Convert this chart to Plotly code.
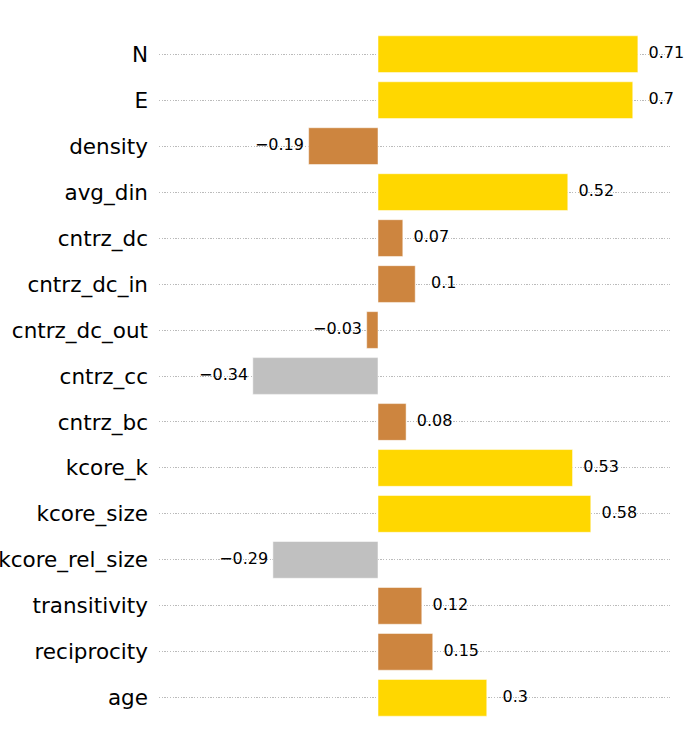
import plotly.graph_objects as go

categories = ["N", "E", "density", "avg_din", "cntrz_dc", "cntrz_dc_in", "cntrz_dc_out",
              "cntrz_cc", "cntrz_bc", "kcore_k", "kcore_size", "kcore_rel_size",
              "transitivity", "reciprocity", "age"]
values = [0.712, 0.698, -0.19, 0.52, 0.068, 0.102, -0.031,
          -0.343, 0.077, 0.533, 0.583, -0.288,
          0.12, 0.15, 0.298]
groups = ["strong", "strong", "weak", "strong", "weak", "weak", "weak",
          "negative", "weak", "strong", "strong", "negative",
          "weak", "weak", "strong"]

palette = {"strong": "#FFD700", "weak": "#CD853F", "negative": "#C0C0C0"}
colors = [palette[g] for g in groups]

def fmt(v):
    s = str(round(v, 2))
    return s.replace("-", "\u2212")

labels = [fmt(v) for v in values]
label_x = [v + (0.078 if v >= 0 else -0.08) for v in values]

fig = go.Figure()
fig.add_trace(go.Bar(
    x=values, y=categories, orientation="h",
    marker=dict(color=colors, line=dict(color="rgba(255,255,255,0.5)", width=1)),
    width=0.8, hoverinfo="skip",
))
fig.add_trace(go.Scatter(
    x=label_x, y=categories, mode="text", text=labels,
    textposition="middle center",
    textfont=dict(family="DejaVu Sans", size=16, color="black"),
    hoverinfo="skip", cliponaxis=False,
))

fig.update_layout(
    width=685, height=750,
    margin=dict(l=159.3, r=15, t=21.5, b=20),
    paper_bgcolor="white", plot_bgcolor="white",
    showlegend=False,
    font=dict(family="DejaVu Sans"),
    xaxis=dict(range=[-0.6, 0.8], showticklabels=False, showgrid=False,
               zeroline=False, showline=False, ticks=""),
    yaxis=dict(type="category", categoryorder="array", categoryarray=categories,
               range=[14.7, -0.7], showgrid=True, gridcolor="#bbbbbb", gridwidth=1,
               griddash="1.3px,1.4px", zeroline=False, showline=False, ticks="",
               tickfont=dict(family="DejaVu Sans", size=21.5, color="black"),
               ticklabelstandoff=10, automargin=False),
)

fig.write_html("out.html",
               config={"displayModeBar": False},
               post_script="document.body.style.margin='0';document.body.style.overflow='hidden';")
